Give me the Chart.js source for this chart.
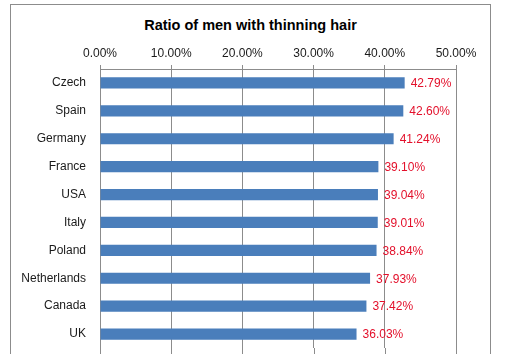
<!DOCTYPE html>
<html>
<head>
<meta charset="utf-8">
<script src="https://cdn.jsdelivr.net/npm/chart.js@4"></script>
<style>
  html, body { margin: 0; padding: 0; background: #fff; overflow: hidden; }
  body { width: 507px; height: 354px; position: relative; }
  .frame {
    position: absolute; left: 10px; top: 4px; width: 481px; height: 400px;
    border: 1px solid #8c8c8c; box-sizing: border-box;
  }
  .title {
    position: absolute; left: 10px; width: 481px; top: 16px; text-align: center;
    font: bold 14.5px 'Liberation Sans', Arial, sans-serif; color: #000; line-height: 18px;
  }
  .wrap { position: absolute; left: 11px; top: 5px; width: 478px; height: 349px; }
</style>
</head>
<body>
<div class="frame"></div>
<div class="title">Ratio of men with thinning hair</div>
<div class="wrap"><canvas id="myChart" width="478" height="349"></canvas></div>
<script>
const countries = ["Czech", "Spain", "Germany", "France", "USA", "Italy", "Poland", "Netherlands", "Canada", "UK"];
const ratios = [42.79, 42.60, 41.24, 39.10, 39.04, 39.01, 38.84, 37.93, 37.42, 36.03];
const tickValues = [0, 10, 20, 30, 40, 50];

const FONT = "'Liberation Sans', Arial, sans-serif";

// red value labels at the end of each bar
const valueLabels = {
    id: 'valueLabels',
    afterDatasetsDraw(chart) {
        const ctx = chart.ctx;
        const meta = chart.getDatasetMeta(0);
        ctx.save();
        ctx.font = '12px ' + FONT;
        ctx.fillStyle = '#e3102b';
        ctx.textAlign = 'left';
        ctx.textBaseline = 'middle';
        meta.data.forEach((bar, i) => {
            ctx.fillText(ratios[i].toFixed(2) + '%', bar.x + 6, bar.y + 1);
        });
        ctx.restore();
    }
};

// gridlines keep going past the plot down to the edge
const longGrid = {
    id: 'longGrid',
    afterDraw(chart) {
        const ctx = chart.ctx;
        const xs = chart.scales.x;
        ctx.save();
        ctx.strokeStyle = '#8c8c8c';
        ctx.lineWidth = 1;
        xs.ticks.forEach(t => {
            const px = Math.round(xs.getPixelForValue(t.value)) + 0.5;
            ctx.beginPath();
            ctx.moveTo(px, chart.chartArea.bottom);
            ctx.lineTo(px, chart.height);
            ctx.stroke();
        });
        ctx.restore();
    }
};

const ctx = document.getElementById('myChart').getContext('2d');
const chart = new Chart(ctx, {
    type: 'bar',
    data: {
        labels: countries,
        datasets: [{
            data: ratios,
            backgroundColor: '#4a7ebb',
            borderWidth: 0,
            barPercentage: 0.4,
            categoryPercentage: 1.0
        }]
    },
    options: {
        indexAxis: 'y',
        responsive: false,
        animation: false,
        layout: { padding: { left: 0, right: 33, top: 31, bottom: 6 } },
        plugins: {
            legend: { display: false },
            tooltip: { enabled: false },
            title: { display: false }
        },
        scales: {
            x: {
                position: 'top',
                min: 0,
                max: 50,
                afterBuildTicks: (scale) => {
                    scale.ticks = tickValues.map(v => ({ value: v }));
                },
                afterFit: (scale) => { scale.height = 33; },
                ticks: {
                    color: '#1a1a1a',
                    font: { family: FONT, size: 12 },
                    padding: 4,
                    maxRotation: 0,
                    callback: (v) => Number(v).toFixed(2) + '%'
                },
                grid: { color: '#8c8c8c', tickLength: 4, drawTicks: true },
                border: { display: true, color: '#8c8c8c' }
            },
            y: {
                afterFit: (scale) => {
                    scale.width = 89;
                    scale.paddingTop = 0;
                    scale.paddingBottom = 0;
                },
                ticks: {
                    color: '#1a1a1a',
                    font: { family: FONT, size: 12 },
                    padding: 14
                },
                grid: { display: false, drawTicks: false },
                border: { display: false }
            }
        }
    },
    plugins: [valueLabels, longGrid]
});
</script>
</body>
</html>
